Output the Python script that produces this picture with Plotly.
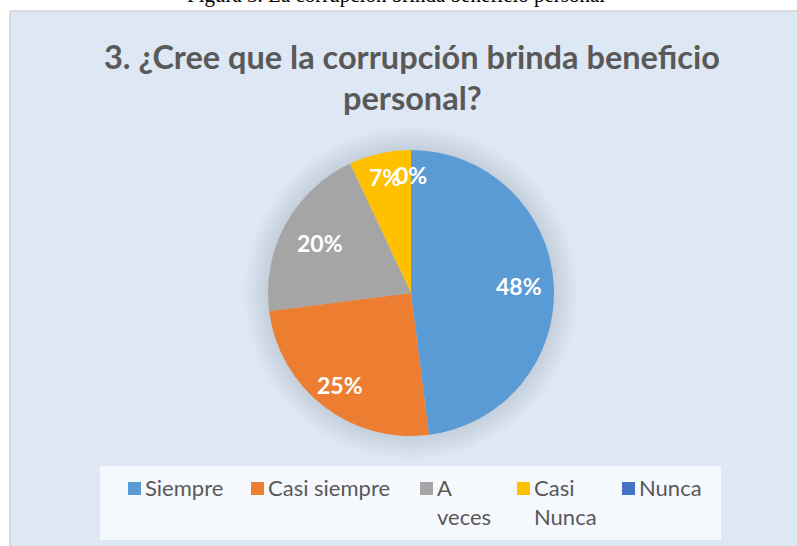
import math
import plotly.graph_objects as go

# ---- data ----
categories = ["Siempre", "Casi siempre", "A veces", "Casi Nunca", "Nunca"]
values = [48, 25, 20, 7, 0]
colors = ["#5B9BD5", "#ED7D31", "#A5A5A5", "#FFC000", "#4472C4"]
legend_labels = ["Siempre", "Casi siempre", "A<br>veces", "Casi<br>Nunca", "Nunca"]
title_lines = ["3. ¿Cree que la corrupción brinda beneficio", "personal?"]
caption = "Figura 3. La corrupción brinda beneficio personal"

# ---- layout parameters (pixels) ----
W, H = 797, 546
CX, CY, R = 411, 293, 143
label_radius_frac = [0.755, 0.81, 0.73, 0.83, 0.825]
legend_sq_x = [128, 251, 420, 517, 622]
FONT = "Lato"
TXT = "#595959"


def fx(x):
    return x / W


def fy(y):
    return 1 - y / H


fig = go.Figure()

fig.add_trace(go.Pie(
    labels=categories,
    values=values,
    marker=dict(colors=colors, line=dict(width=0)),
    sort=False,
    direction="clockwise",
    rotation=0,
    textinfo="none",
    hoverinfo="label+percent",
    showlegend=False,
    domain=dict(x=[fx(CX - R), fx(CX + R)], y=[fy(CY + R), fy(CY - R)]),
))

shapes = []
# panel background
shapes.append(dict(type="rect", xref="paper", yref="paper",
                   x0=fx(10), x1=fx(W + 20), y0=fy(H + 20), y1=fy(11),
                   fillcolor="#DEE8F4", line=dict(color="#D3D3D3", width=1.5),
                   layer="below"))
# soft shadow around pie
for i in range(24, 0, -1):
    r = R + i
    shapes.append(dict(type="circle", xref="paper", yref="paper",
                       x0=fx(CX - r), x1=fx(CX + r), y0=fy(CY + r), y1=fy(CY - r),
                       fillcolor="rgba(80,90,105,0.009)", line=dict(width=0),
                       layer="below"))
# legend box
shapes.append(dict(type="rect", xref="paper", yref="paper",
                   x0=fx(100), x1=fx(721), y0=fy(540), y1=fy(466),
                   fillcolor="#F5F8FC", line=dict(width=0), layer="below"))
# legend squares
for sx, c in zip(legend_sq_x, colors):
    shapes.append(dict(type="rect", xref="paper", yref="paper",
                       x0=fx(sx), x1=fx(sx + 13), y0=fy(495), y1=fy(482),
                       fillcolor=c, line=dict(width=0), layer="above"))

annotations = []
# caption (cut off at top)
annotations.append(dict(text=caption, xref="paper", yref="paper",
                        x=fx(396), y=fy(9), xanchor="center", yanchor="bottom",
                        showarrow=False,
                        font=dict(family="Liberation Serif", size=21, color="#000000")))
# title
annotations.append(dict(text="<b>%s</b>" % title_lines[0], xref="paper", yref="paper",
                        x=fx(412), y=fy(57), xanchor="center", yanchor="middle",
                        showarrow=False, font=dict(family=FONT, size=32.5, color=TXT)))
annotations.append(dict(text="<b>%s</b>" % title_lines[1], xref="paper", yref="paper",
                        x=fx(412), y=fy(97), xanchor="center", yanchor="middle",
                        showarrow=False, font=dict(family=FONT, size=32.5, color=TXT)))
# slice labels
total = sum(values)
cum = 0
for v, k in zip(values, label_radius_frac):
    ang = 2 * math.pi * (cum + v / 2) / total
    cum += v
    px = CX + k * R * math.sin(ang)
    py = CY - k * R * math.cos(ang)
    annotations.append(dict(text="<b>%d%%</b>" % round(100 * v / total),
                            xref="paper", yref="paper", x=fx(px), y=fy(py),
                            xanchor="center", yanchor="middle", showarrow=False,
                            font=dict(family=FONT, size=23, color="#FFFFFF")))
# legend texts
for sx, lab in zip(legend_sq_x, legend_labels):
    annotations.append(dict(text=lab, xref="paper", yref="paper",
                            x=fx(sx + 15), y=fy(472), xanchor="left", yanchor="top",
                            align="left", showarrow=False,
                            font=dict(family=FONT, size=22, color=TXT)))

fig.update_layout(
    width=W, height=H,
    margin=dict(l=0, r=0, t=0, b=0),
    paper_bgcolor="#FFFFFF",
    plot_bgcolor="#FFFFFF",
    shapes=shapes,
    annotations=annotations,
)

fig.write_html("out.html",
               config={"displayModeBar": False},
               post_script="document.body.style.margin='0';document.body.style.padding='0';")
